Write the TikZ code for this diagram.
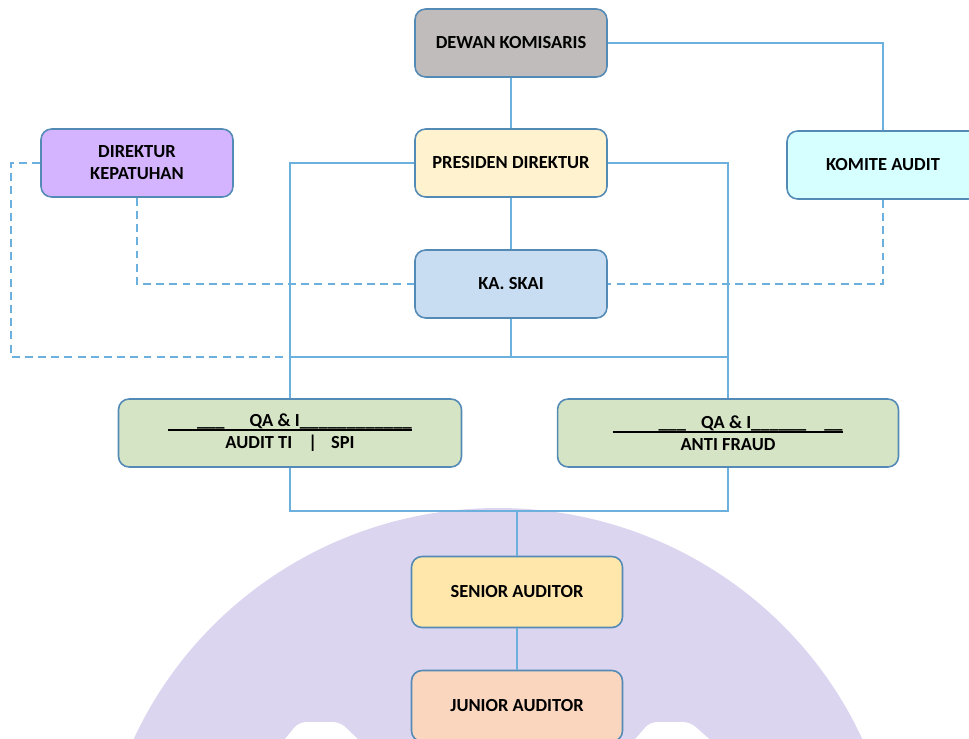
\documentclass[tikz,border=0pt]{standalone}
\usepackage{fontspec}
\setmainfont{Carlito}
\definecolor{boxline}{RGB}{84,138,182}
\definecolor{linkcol}{RGB}{108,176,222}
\definecolor{wmark}{RGB}{219,213,239}
\definecolor{greyfill}{RGB}{192,188,187}
\definecolor{creamfill}{RGB}{255,242,206}
\definecolor{skyfill}{RGB}{200,221,241}
\definecolor{lilacfill}{RGB}{212,180,255}
\definecolor{cyanfill}{RGB}{214,255,255}
\definecolor{sagefill}{RGB}{213,228,196}
\definecolor{goldfill}{RGB}{255,231,172}
\definecolor{peachfill}{RGB}{250,214,190}
\newcommand{\qaline}[4]{\makebox[#1][l]{\rlap{\rule[-2.4pt]{#1}{1.1pt}}\hspace{#2}\_\_\_\hspace{#3}QA \& I#4}}
\begin{document}
\begin{tikzpicture}[x=0.02cm,y=-0.02cm,
  box/.style={draw=boxline,line width=0.9pt,rounded corners=6pt,minimum width=3.84cm,
    minimum height=1.36cm,align=center,inner sep=2pt,font=\bfseries\fontsize{10.5}{12.5}\selectfont},
  link/.style={draw=linkcol,line width=0.9pt},
  dotlink/.style={draw=linkcol,line width=0.9pt,dash pattern=on 4.5pt off 3pt}]
\clip (0,0) rectangle (969,738);
\fill[wmark] (498,902) ellipse [x radius=400,y radius=394];
\fill[white,rounded corners=4pt] (280,745) -- (299,722) -- (340,722) -- (364,745) -- cycle;
\fill[white,rounded corners=4pt] (630,745) -- (650,722) -- (690,722) -- (716,745) -- cycle;
\node[box,fill=greyfill] (dk) at (511,43) {DEWAN KOMISARIS};
\node[box,fill=creamfill] (pd) at (511,163) {PRESIDEN DIREKTUR};
\node[box,fill=skyfill] (skai) at (511,284) {KA. SKAI};
\node[box,fill=lilacfill] (dir) at (137,163) {DIREKTUR\\KEPATUHAN};
\node[box,fill=cyanfill] (ka) at (883,165) {KOMITE AUDIT};
\node[box,fill=sagefill,minimum width=6.86cm] (qa1) at (290,433)
  {\qaline{4.88cm}{0.58cm}{0.5cm}{\xleaders\hbox{\_}\hfill}\\AUDIT TI\hspace{0.32cm}|\hspace{0.28cm}SPI};
\node[box,fill=sagefill,minimum width=6.82cm] (qa2) at (728,433)
  {\qaline{4.62cm}{0.92cm}{0.3cm}{\_\_\_\_\_\_\hspace{0.36cm}\_\_}\\ANTI FRAUD};
\node[box,fill=goldfill,minimum width=4.22cm,minimum height=1.42cm] (sa) at (517,592) {SENIOR AUDITOR};
\node[box,fill=peachfill,minimum width=4.22cm,minimum height=1.42cm] (ja) at (517,706) {JUNIOR AUDITOR};
\coordinate (join) at (511,357);
\coordinate (merge) at (517,511);
\coordinate (loop) at (11,357);
\draw[link] (dk) -- (pd);
\draw[link] (dk.east) -- (ka.north |- dk.east) -- (ka.north);
\draw[link] (pd) -- (skai);
\draw[link] (pd.west) -| (qa1.north);
\draw[link] (pd.east) -| (qa2.north);
\draw[link] (skai) -- (join);
\draw[link] (qa1.north |- join) -- (qa2.north |- join);
\draw[link] (qa1.south) -- (qa1.south |- merge) -- (qa2.south |- merge) -- (qa2.south);
\draw[link] (merge) -- (sa);
\draw[link] (sa) -- (ja);
\draw[dotlink] (dir.south) |- (skai.west);
\draw[dotlink] (ka.south) |- (skai.east);
\draw[dotlink] (dir.west) -| (loop) -- (qa1.north |- join);
\end{tikzpicture}
\end{document}
